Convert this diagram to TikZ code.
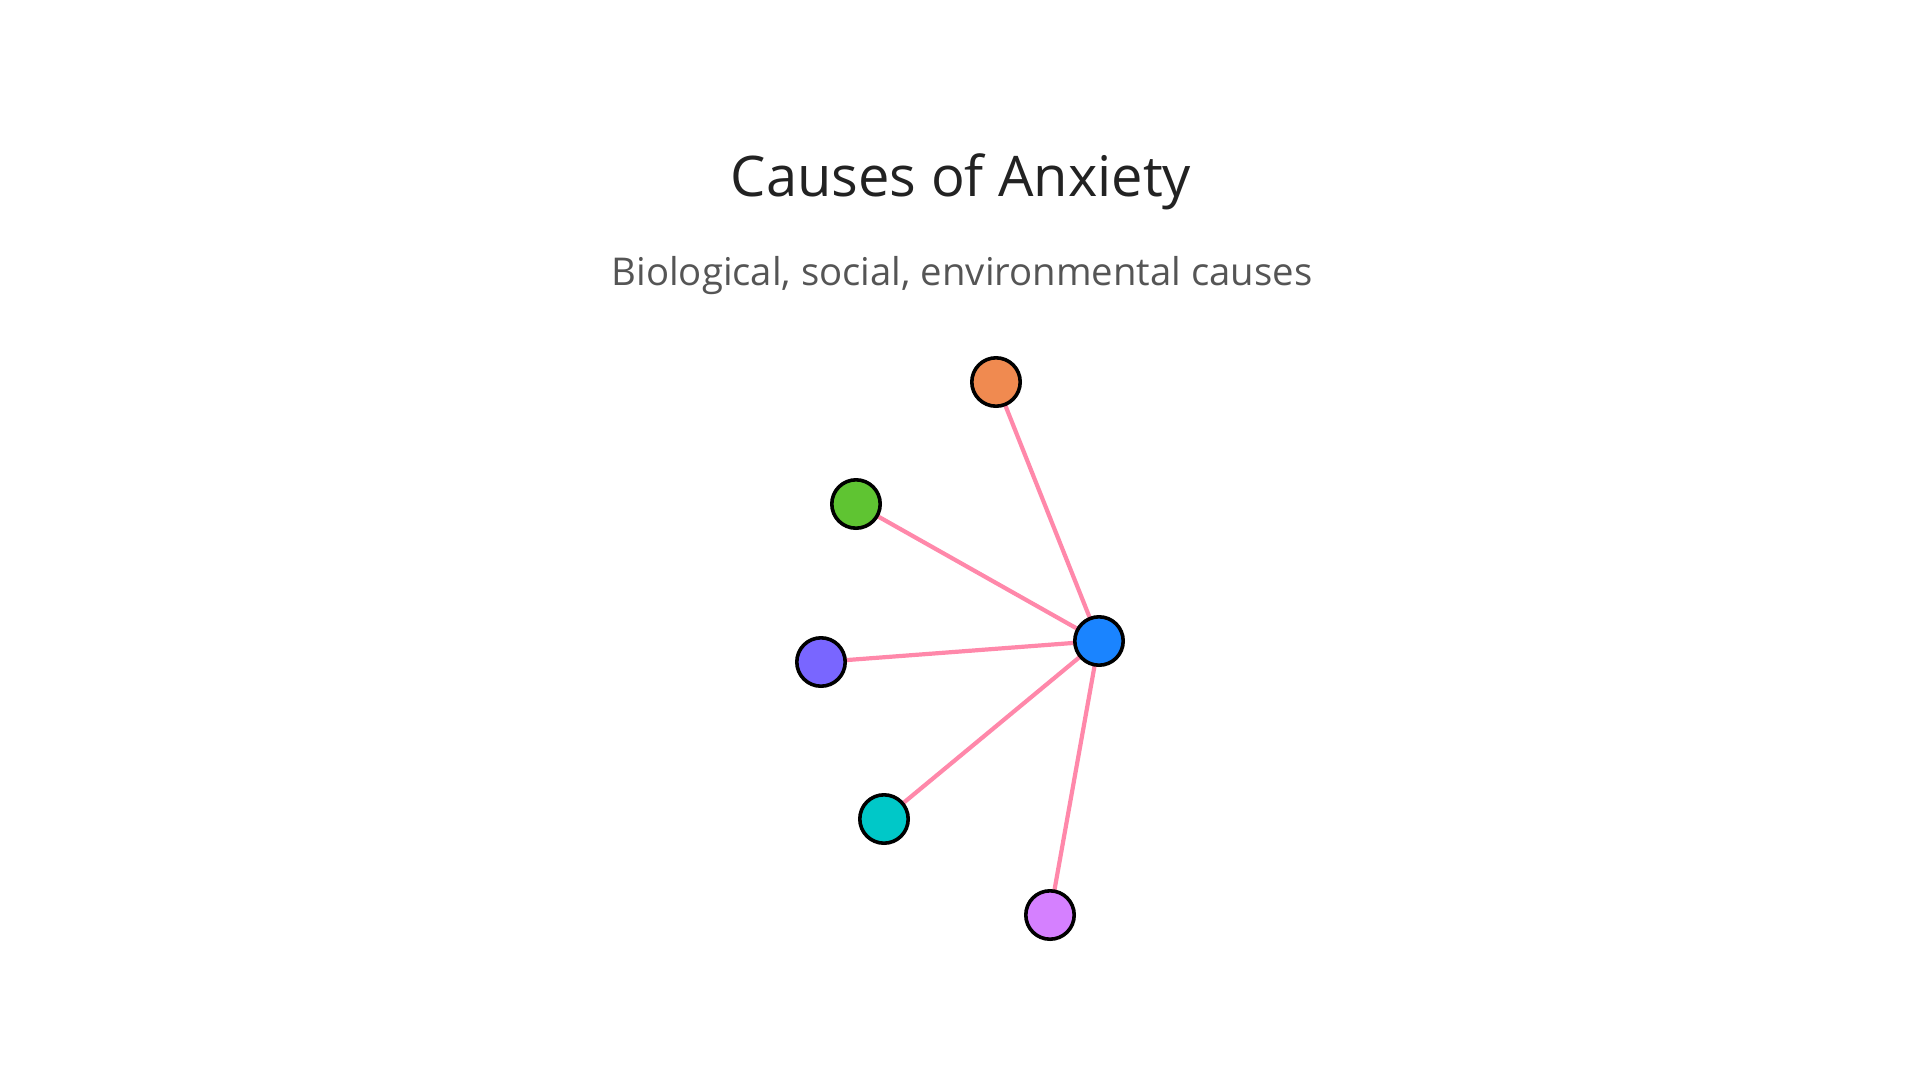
\documentclass[tikz,border=0pt]{standalone}
\usepackage{fontspec}
\setmainfont{Open Sans}
\usepackage{xcolor}
\usepackage{tikz}
\usetikzlibrary{positioning, backgrounds}
\pgfdeclarelayer{background}
\pgfsetlayers{background,main}

\definecolor{titlegray}{HTML}{222222}
\definecolor{subgray}{HTML}{555555}
\definecolor{linkpink}{HTML}{FF88AA}
\definecolor{hubblue}{HTML}{1A84FF}
\definecolor{leaforange}{HTML}{F08A50}
\definecolor{leafgreen}{HTML}{5FC432}
\definecolor{leafpurple}{HTML}{7966FF}
\definecolor{leafcyan}{HTML}{00C8C8}
\definecolor{leafviolet}{HTML}{D580FF}

\begin{document}
\begin{tikzpicture}[
    x=1pt, y=-1pt,
    dot/.style={draw=black, circle, line width=3.6pt, minimum size=48.4pt, inner sep=0pt},
    link/.style={draw=linkpink, line width=4.2pt}
]
\useasboundingbox (0,0) rectangle (1920,1080);

\node[anchor=base, text=titlegray, font=\fontsize{56}{67}\selectfont] (title) at (961,196) {Causes of Anxiety};
\node[anchor=base, text=subgray, font=\fontsize{38.3}{46}\selectfont] (subtitle) at (962,285) {Biological, social, environmental causes};

\node[dot, fill=hubblue] (hub) at (1099,641) {};
\node[dot, fill=leaforange] (bio) at (996,382) {};
\node[dot, fill=leafgreen] (social) at (856,504) {};
\node[dot, fill=leafpurple] (env) at (821,662) {};
\node[dot, fill=leafcyan] (genes) at (884,819) {};
\node[dot, fill=leafviolet] (stress) at (1050,915) {};

\begin{pgfonlayer}{background}
\draw[link] (hub.center) -- (bio.center);
\draw[link] (hub.center) -- (social.center);
\draw[link] (hub.center) -- (env.center);
\draw[link] (hub.center) -- (genes.center);
\draw[link] (hub.center) -- (stress.center);
\end{pgfonlayer}

\end{tikzpicture}
\end{document}
